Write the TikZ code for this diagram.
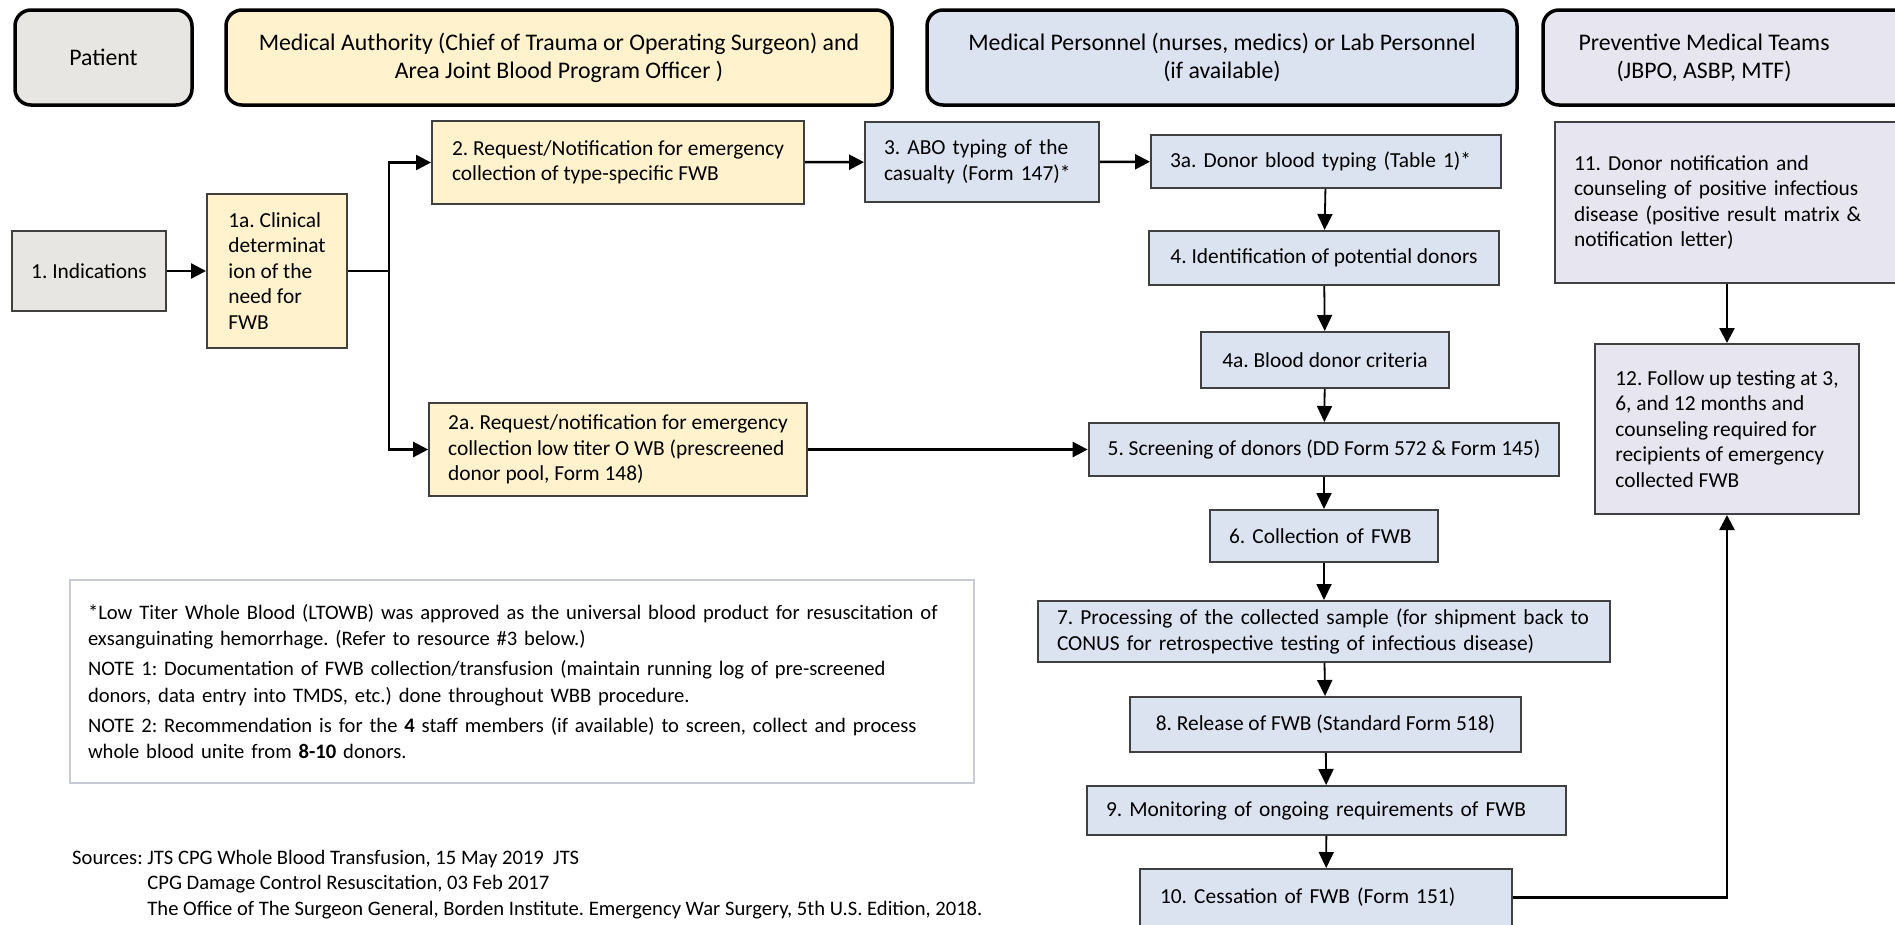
\documentclass[tikz,border=0pt]{standalone}
\usepackage{fontspec}
\setmainfont{Carlito}
\usetikzlibrary{arrows.meta,positioning}
\definecolor{ptgray}{RGB}{231,230,226}
\definecolor{mayellow}{RGB}{255,242,204}
\definecolor{mpblue}{RGB}{220,227,240}
\definecolor{pvlav}{RGB}{231,229,239}
\definecolor{boxline}{RGB}{64,64,64}
\definecolor{noteline}{RGB}{200,202,216}
\frenchspacing

\begin{document}
\begin{tikzpicture}[x=1pt,y=-1pt,
    hdr/.style={draw=black,line width=3.5pt,rounded corners=16pt,align=center,
      minimum height=95pt,font=\fontsize{23.8}{28}\selectfont},
    box/.style={draw=boxline,line width=2pt,align=left,inner xsep=19pt,
      font=\fontsize{21.4}{25.5}\selectfont},
    flow/.style={-{Triangle[length=15pt,width=15pt]},line width=2.5pt},
    down/.style={-{Triangle[length=16pt,width=15pt]},line width=1.8pt}]
  \useasboundingbox (0,0) rectangle (1895,924);

  % swimlane headers
  \node[hdr,fill=ptgray,minimum width=177pt] (patient) at (103.5,57.5) {Patient};
  \node[hdr,fill=mayellow,minimum width=666pt] (authority) at (559,57.5)
        {Medical Authority (Chief of Trauma or Operating Surgeon) and\\Area Joint Blood Program Officer )};
  \node[hdr,fill=mpblue,minimum width=590pt] (personnel) at (1222,57.5)
        {Medical Personnel (nurses, medics) or Lab Personnel\\(if available)};
  \draw[black,line width=3.5pt,rounded corners=16pt,fill=pvlav] (1543,10) rectangle (1925,105);
  \node[align=center,font=\fontsize{23.8}{28}\selectfont] (preventive) at (1704,57.5)
        {Preventive Medical Teams\\(JBPO, ASBP, MTF)};

  % patient / authority column
  \node[box,fill=ptgray,align=center,minimum width=150pt,minimum height=80pt] (ind) at (89,271) {1. Indications};
  \node[box,fill=mayellow,minimum width=140pt,minimum height=154pt] (clin) at (277,271)
        {1a. Clinical\\determinat\\ion of the\\need for\\FWB};
  \node[box,fill=mayellow,minimum width=372pt,minimum height=83pt] (req) at (618,162.5)
        {2. Request/Notification for emergency\\collection of type-specific FWB};
  \node[box,fill=mayellow,minimum width=372pt,minimum height=93pt] (reqo) at (618,449.5)
        {2a. Request/notification for emergency\\collection low titer O WB (prescreened\\donor pool, Form 148)};

  % personnel column
  \node[box,fill=mpblue,text width=196pt,minimum height=80pt] (abo) at (982,162)
        {3. ABO typing of the\\casualty (Form 147)*};
  \node[box,fill=mpblue,text width=312pt,minimum height=53pt] (dtype) at (1326,161.5)
        {3a. Donor blood typing (Table 1)*};
  \node[box,fill=mpblue,align=center,minimum width=350pt,minimum height=54pt] (ident) at (1324,258)
        {4. Identification of potential donors};
  \node[box,fill=mpblue,align=center,minimum width=248pt,minimum height=56pt] (crit) at (1325,360)
        {4a. Blood donor criteria};
  \node[box,fill=mpblue,align=center,minimum width=454pt,minimum height=53pt] (screen) at (1324,449.5)
        {5. Screening of donors (DD Form 572 \& Form 145)};
  \node[box,fill=mpblue,text width=190pt,minimum height=52pt] (collect) at (1324,536)
        {6. Collection of FWB};
  \node[box,fill=mpblue,text width=534pt,minimum height=61pt] (process) at (1324,631.5)
        {7. Processing of the collected sample (for shipment back to\\CONUS for retrospective testing of infectious disease)};
  \node[box,fill=mpblue,minimum width=391pt,minimum height=55pt] (release) at (1325.5,724.5)
        {8. Release of FWB (Standard Form 518)};
  \node[box,fill=mpblue,text width=441pt,minimum height=49pt] (monitor) at (1326.5,810.5)
        {9. Monitoring of ongoing requirements of FWB};
  \node[box,fill=mpblue,inner xsep=20pt,text width=332pt,minimum height=57pt] (cease) at (1326,897.5)
        {10. Cessation of FWB (Form 151)};

  % preventive column
  \node[box,fill=pvlav,text width=322pt,minimum height=161pt] (notify) at (1735,202.5)
        {11. Donor notification and\\counseling of positive infectious\\disease (positive result matrix \&\\notification letter)};
  \node[box,fill=pvlav,minimum width=264pt,minimum height=170pt] (followup) at (1727,429)
        {12. Follow up testing at 3,\\6, and 12 months and\\counseling required for\\recipients of emergency\\collected FWB};

  % connectors
  \coordinate (split) at (389,271);
  \draw[flow] (ind) -- (clin);
  \draw[line width=2.5pt] (clin) -- (split);
  \draw[flow] (split) |- (req);
  \draw[flow] (split) |- (reqo);
  \draw[flow] (req) -- (abo);
  \draw[flow] (abo) -- (dtype);
  \draw[flow] (reqo) -- (screen);
  \draw[down] (dtype) -- (ident);
  \draw[down] (ident) -- (crit);
  \draw[down] (crit) -- (screen);
  \draw[down] (screen) -- (collect);
  \draw[down] (collect) -- (process);
  \draw[down] (process) -- (release);
  \draw[down] (release) -- (monitor);
  \draw[down] (monitor) -- (cease);
  \draw[flow] (notify.south -| followup) -- (followup);
  \draw[flow] (cease) -| (followup);

  % notes and sources
  \node[draw=noteline,line width=2pt,anchor=north west,inner xsep=18pt,inner ysep=10pt,
        text width=868pt,minimum height=203pt,align=left,font=\fontsize{20.6}{26.5}\selectfont] (notes) at (69,579)
        {*Low Titer Whole Blood (LTOWB) was approved as the universal blood product for resuscitation of\\
         exsanguinating hemorrhage. (Refer to resource \#3 below.)\\[3.5pt]
         NOTE 1: Documentation of FWB collection/transfusion (maintain running log of pre-screened\\
         donors, data entry into TMDS, etc.) done throughout WBB procedure.\\[3.5pt]
         NOTE 2: Recommendation is for the \textbf{4} staff members (if available) to screen, collect and process\\
         whole blood unite from \textbf{8-10} donors.};
  \node[anchor=base west,inner sep=0pt,align=left,font=\fontsize{20.6}{25.5}\selectfont] (sources) at (72,864)
        {\begin{tabular}[t]{@{}l@{ }l}
          Sources: & JTS CPG Whole Blood Transfusion, 15 May 2019\ \ JTS\\
          & CPG Damage Control Resuscitation, 03 Feb 2017\\
          & The Office of The Surgeon General, Borden Institute. Emergency War Surgery, 5th U.S. Edition, 2018.
        \end{tabular}};
\end{tikzpicture}
\end{document}
